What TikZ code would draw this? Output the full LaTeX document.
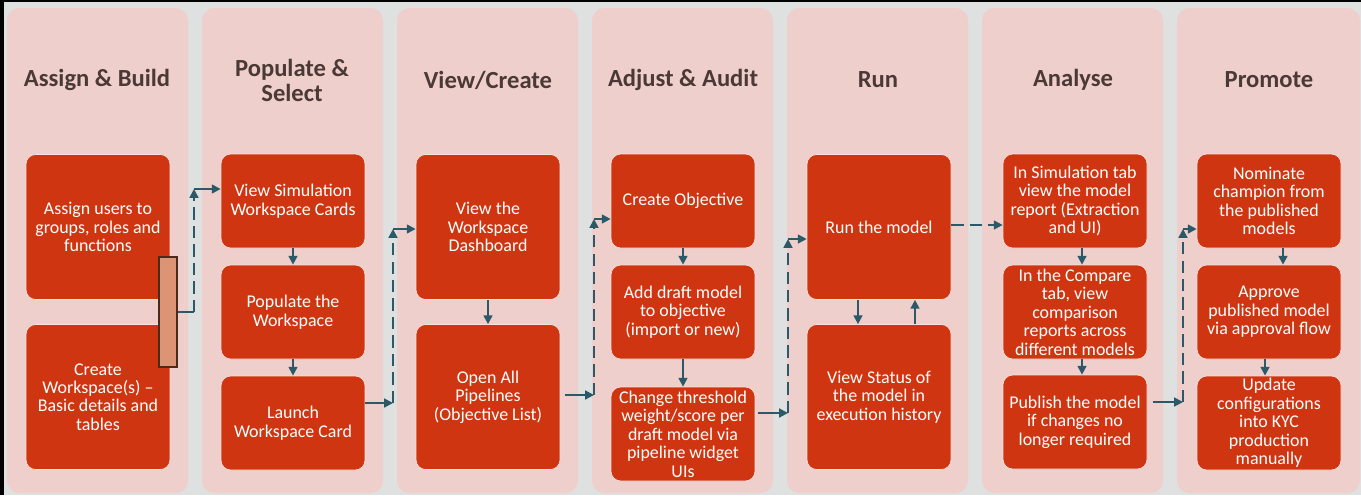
\documentclass[tikz,border=0pt]{standalone}
\usepackage{fontspec}
\setmainfont{Carlito}
\usetikzlibrary{arrows.meta,calc}

\definecolor{bggray}{HTML}{DEE1E0}
\definecolor{panelpink}{HTML}{EFCFCC}
\definecolor{boxred}{HTML}{CF3510}
\definecolor{headbrown}{HTML}{4B3935}
\definecolor{flowteal}{HTML}{2B5967}
\definecolor{tabsalmon}{HTML}{DD9475}
\definecolor{tabedge}{HTML}{4A2A1A}

\begin{document}
\begin{tikzpicture}[x=0.02cm,y=-0.02cm,
  panel/.style={fill=panelpink,rounded corners=7pt},
  box/.style={fill=boxred,draw=white!85!boxred,line width=0.4pt,rounded corners=5.5pt,
    text=white,align=center,minimum width=2.88cm,inner sep=0pt,
    font=\fontsize{10.2}{10.5}\selectfont},
  tall/.style={box,minimum height=2.9cm},
  short/.style={box,minimum height=1.88cm},
  head/.style={text=headbrown,align=center,font=\bfseries\fontsize{14}{14.2}\selectfont},
  link/.style={draw=flowteal,line width=1.1pt},
  flow/.style={link,-{Triangle[length=5pt,width=5pt]}},
  gap/.style={dash pattern=on 7pt off 3.5pt}]
\useasboundingbox (0,0) rectangle (1361,495);

% Background and frame
\fill[bggray] (0,0) rectangle (1361,495);
\fill[black] (0,0) rectangle (4,495);
\fill[black] (0,0) rectangle (1361,2);

% Panels
\fill[panel] (7,8) rectangle (188,493);
\fill[panel] (202,8) rectangle (383,493);
\fill[panel] (397,8) rectangle (578,493);
\fill[panel] (592,8) rectangle (773,493);
\fill[panel] (787,8) rectangle (968,493);
\fill[panel] (982,8) rectangle (1163,493);
\fill[panel] (1177,8) rectangle (1360,493);

% Headings
\node[head] (h1) at (97,80) {Assign \& Build};
\node[head] (h2) at (292,80) {Populate \&\\Select};
\node[head] (h3) at (488,80) {View/Create};
\node[head] (h4) at (683,80) {Adjust \& Audit};
\node[head] (h5) at (878,80) {Run};
\node[head] (h6) at (1073,80) {Analyse};
\node[head] (h7) at (1269,80) {Promote};

% Assign & Build
\node[tall] (p1b1) at (98,227) {Assign users to\\groups, roles and\\functions};
\node[tall] (p1b2) at (98,397) {Create\\Workspace(s) --\\Basic details and\\tables};
\node[draw=tabedge,fill=tabsalmon,line width=0.6pt,minimum width=0.36cm,minimum height=2.2cm,inner sep=0pt] (tab) at (168,312) {};

% Populate & Select
\node[short] (p2b1) at (293,201) {View Simulation\\Workspace Cards};
\node[short] (p2b2) at (293,312) {Populate the\\Workspace};
\node[short] (p2b3) at (293,423) {Launch\\Workspace Card};
\draw[flow] (p2b1) -- (p2b2);
\draw[flow] (p2b2) -- (p2b3);

% View/Create
\node[tall] (p3b1) at (488,227) {View the\\Workspace\\Dashboard};
\node[tall] (p3b2) at (488,397) {Open All\\Pipelines\\(Objective List)};
\draw[flow] (p3b1) -- (p3b2);

% Adjust & Audit
\node[short] (p4b1) at (683,201) {Create Objective};
\node[short] (p4b2) at (683,312) {Add draft model\\to objective\\(import or new)};
\node[short] (p4b3) at (683,434) {Change threshold\\weight/score per\\draft model via\\pipeline widget\\UIs};
\draw[flow] (p4b1) -- (p4b2);
\draw[flow] (p4b2) -- (p4b3);

% Run
\node[tall] (p5b1) at (879,227) {Run the model};
\node[tall] (p5b2) at (879,397) {View Status of\\the model in\\execution history};
\draw[flow] ($(p5b1.south)+(-21,0)$) -- ($(p5b2.north)+(-21,0)$);
\draw[flow] ($(p5b2.north)+(36,0)$) -- ($(p5b1.south)+(36,0)$);

% Analyse
\node[short] (p6b1) at (1075,201) {In Simulation tab\\view the model\\report (Extraction\\and UI)};
\node[short] (p6b2) at (1075,312) {In the Compare\\tab, view\\comparison\\reports across\\different models};
\node[short] (p6b3) at (1075,422) {Publish the model\\if changes no\\longer required};
\draw[flow] ($(p6b1.south)+(7,0)$) -- ($(p6b2.north)+(7,0)$);
\draw[flow] ($(p6b2.south)+(7,0)$) -- ($(p6b3.north)+(7,0)$);

% Promote
\node[short] (p7b1) at (1269,201) {Nominate\\champion from\\the published\\models};
\node[short] (p7b2) at (1269,312) {Approve\\published model\\via approval flow};
\node[short] (p7b3) at (1269,423) {Update\\configurations\\into KYC\\production\\manually};
\draw[flow] ($(p7b1.south)+(14,0)$) -- ($(p7b2.north)+(14,0)$);
\draw[flow] ($(p7b2.south)+(-4,0)$) -- ($(p7b3.north)+(-4,0)$);

% Links between panels
\coordinate (k1lo) at (194,312);
\coordinate (k1hi) at (194,189);
\draw[link] (tab.east) -- (k1lo);
\draw[flow,gap] (k1lo) -- (k1hi);
\draw[flow] (k1hi) -- (p2b1.west |- k1hi);

\coordinate (k2lo) at (393,403);
\coordinate (k2hi) at (393,229);
\draw[flow] (p2b3.east |- k2lo) -- (k2lo);
\draw[flow,gap] (k2lo) -- (k2hi);
\draw[flow] (k2hi) -- (p3b1.west |- k2hi);

\coordinate (k3lo) at (594,395);
\coordinate (k3hi) at (594,219);
\draw[flow] ($(p3b2.east |- k3lo)+(5,0)$) -- (k3lo);
\draw[flow,gap] (k3lo) -- (k3hi);
\draw[flow] (k3hi) -- (p4b1.west |- k3hi);

\coordinate (k4lo) at (788,413);
\coordinate (k4hi) at (788,239);
\draw[flow] ($(p4b3.east |- k4lo)+(3,0)$) -- (k4lo);
\draw[flow,gap] (k4lo) -- (k4hi);
\draw[flow] (k4hi) -- (p5b1.west |- k4hi);

\draw[flow,gap] (p5b1.east |- 0,225) -- (p6b1.west |- 0,225);

\coordinate (k6lo) at (1183,402);
\coordinate (k6hi) at (1183,229);
\draw[flow] ($(p6b3.east |- k6lo)+(6,0)$) -- (k6lo);
\draw[flow,gap] (k6lo) -- (k6hi);
\draw[flow] (k6hi) -- (p7b1.west |- k6hi);
\end{tikzpicture}
\end{document}
